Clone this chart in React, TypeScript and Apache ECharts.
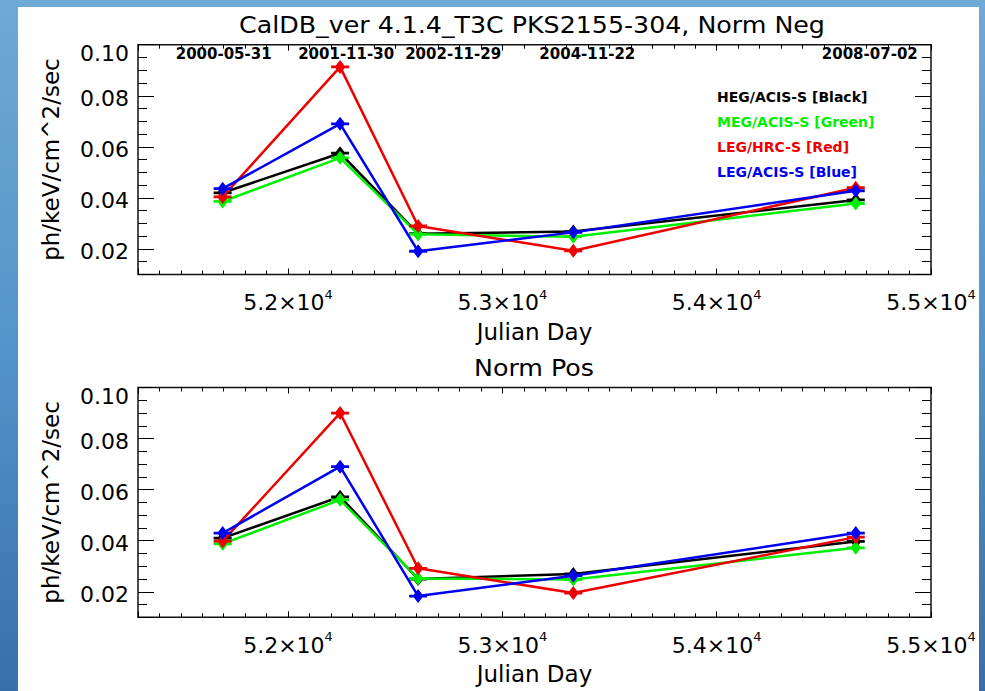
import React, { useEffect, useRef } from 'react';
import * as echarts from 'echarts';

// ---------- data ----------
const seriesNames = ['HEG/ACIS-S [Black]', 'MEG/ACIS-S [Green]', 'LEG/HRC-S [Red]', 'LEG/ACIS-S [Blue]'];
const seriesColors = ['#000000', '#00ee00', '#ee0000', '#0000ee'];
const julianDays = [51695, 52243, 52607, 53331, 54649];
const dateLabels = ['2000-05-31', '2001-11-30', '2002-11-29', '2004-11-22', '2008-07-02'];
const dateLabelShift = [1, 6, 35, 14, 14];

const negBlack = [0.042, 0.0575, 0.026, 0.0268, 0.0392];
const negGreen = [0.0386, 0.0557, 0.0258, 0.0248, 0.0378];
const negRed = [0.0404, 0.0913, 0.029, 0.0193, 0.044];
const negBlue = [0.0436, 0.069, 0.0191, 0.0265, 0.0428];

const posBlack = [0.041, 0.0572, 0.025, 0.027, 0.0397];
const posGreen = [0.0388, 0.056, 0.0252, 0.0248, 0.0372];
const posRed = [0.0398, 0.09, 0.0292, 0.0195, 0.0414];
const posBlue = [0.043, 0.069, 0.0183, 0.0263, 0.043];

const mainTitle = 'CalDB_ver 4.1.4_T3C PKS2155-304, Norm Neg';
const subTitle = 'Norm Pos';
const xName = 'Julian Day';
const yName = 'ph/keV/cm^2/sec';
const xMin = 51300;
const xMax = 55000;
const yMin = 0.01;
const yMax = 0.1;

// ---------- styling ----------
const FONT = 'DejaVu Sans, Liberation Sans, sans-serif';
const MARKER = 'path://M10,0 L16,7 L10,14 L4,7 Z M0,5.6 L20,5.6 L20,8.4 L0,8.4 Z';
const GRID_LEFT = 138;
const GRID_RIGHT = 54;
const GRID_TOPS = [44.7, 387.5];
const GRID_H = 229.8;

function xAxesFor(g: number, showLabels: boolean): any[] {
  const base = {
    type: 'value',
    gridIndex: g,
    min: xMin,
    max: xMax,
    axisLine: { show: false, onZero: false },
    splitLine: { show: false },
  };
  const major = (position: string, labels: boolean) => ({
    ...base,
    position,
    minInterval: 1000,
    maxInterval: 1000,
    axisTick: { inside: true, length: 6, lineStyle: { color: '#000', width: 1 } },
    axisLabel: labels
      ? {
          margin: 13,
          formatter: (v: number) =>
            Math.abs(v % 1000) < 1e-6 ? `{b|${(v / 10000).toFixed(1)}×10}{s|4}` : '',
          rich: {
            b: { fontSize: 22, fontFamily: FONT, color: '#000', lineHeight: 30 },
            s: { fontSize: 13, fontFamily: FONT, color: '#000', lineHeight: 12, verticalAlign: 'top' },
          },
        }
      : { show: false },
    ...(labels
      ? {
          name: xName,
          nameLocation: 'middle',
          nameGap: 46,
          nameTextStyle: { fontSize: 23, fontFamily: FONT, color: '#000', lineHeight: 22 },
        }
      : {}),
  });
  const minor = (position: string) => ({
    ...base,
    position,
    interval: 100,
    axisTick: { inside: true, length: 4, lineStyle: { color: '#000', width: 1 } },
    axisLabel: { show: false },
  });
  return [major('bottom', showLabels), minor('bottom'), major('top', false), minor('top')];
}

function yAxesFor(g: number): any[] {
  const base = {
    type: 'value',
    gridIndex: g,
    min: yMin,
    max: yMax,
    axisLine: { show: false, onZero: false },
    splitLine: { show: false },
  };
  const major = (position: string, labels: boolean) => ({
    ...base,
    position,
    minInterval: 0.02,
    maxInterval: 0.02,
    axisTick: { inside: true, length: 16, lineStyle: { color: '#000', width: 1 } },
    axisLabel: labels
      ? {
          margin: 9,
          formatter: (v: number) => {
            const k = v / 0.02;
            if (Math.abs(k - Math.round(k)) > 1e-6) return '';
            const s = v.toFixed(2);
            return Math.abs(v - yMax) < 1e-9 ? `{t|${s}}` : `{n|${s}}`;
          },
          rich: {
            t: { fontSize: 22, fontFamily: FONT, color: '#000', padding: [18, 0, 0, 0] },
            n: { fontSize: 22, fontFamily: FONT, color: '#000', padding: [5, 0, 0, 0] },
          },
        }
      : { show: false },
    ...(labels
      ? {
          name: yName,
          nameLocation: 'middle',
          nameRotate: 90,
          nameGap: 76,
          nameTextStyle: { fontSize: 23, fontFamily: FONT, color: '#000' },
        }
      : {}),
  });
  const minor = (position: string) => ({
    ...base,
    position,
    interval: 0.005,
    axisTick: { inside: true, length: 9, lineStyle: { color: '#000', width: 1 } },
    axisLabel: { show: false },
  });
  return [major('left', true), minor('left'), major('right', false), minor('right')];
}

function lineSeries(g: number, values: number[][]): any[] {
  return values.map((vals, i) => ({
    type: 'line',
    name: seriesNames[i],
    xAxisIndex: g * 4,
    yAxisIndex: g * 4,
    data: julianDays.map((d, j) => [d, vals[j]]),
    symbol: MARKER,
    symbolSize: [18, 14],
    showAllSymbol: true,
    lineStyle: { color: seriesColors[i], width: 2.5 },
    itemStyle: { color: seriesColors[i] },
    emphasis: { disabled: true },
    z: 3 + i,
  }));
}

export default function App() {
  const ref = useRef<HTMLDivElement>(null);

  useEffect(() => {
    if (!ref.current) return;
    const chart = echarts.init(ref.current, undefined, { renderer: 'svg' });
    const option: any = {
      animation: false,
      backgroundColor: 'transparent',
      textStyle: { fontFamily: FONT },
      grid: GRID_TOPS.map((top) => ({
        left: GRID_LEFT,
        right: GRID_RIGHT,
        top,
        height: GRID_H,
        show: true,
        borderColor: '#111',
        borderWidth: 1.5,
        backgroundColor: 'transparent',
        containLabel: false,
      })),
      xAxis: [...xAxesFor(0, true), ...xAxesFor(1, true)],
      yAxis: [...yAxesFor(0), ...yAxesFor(1)],
      legend: {
        orient: 'vertical',
        left: 707,
        top: 85,
        icon: 'none',
        itemWidth: 0,
        itemHeight: 0,
        itemGap: 11,
        selectedMode: false,
        textStyle: { fontSize: 14, fontWeight: 'bold', fontFamily: FONT, lineHeight: 14 },
        data: seriesNames.map((n, i) => ({ name: n, textStyle: { color: seriesColors[i] } })),
      },
      graphic: [
        {
          type: 'text',
          x: 532,
          y: 25,
          scaleX: 1.1,
          style: {
            text: mainTitle,
            font: `23px ${FONT}`,
            fill: '#000',
            align: 'center',
            verticalAlign: 'middle',
          },
        },
        {
          type: 'text',
          x: 534,
          y: 368,
          scaleX: 1.1,
          style: {
            text: subTitle,
            font: `23px ${FONT}`,
            fill: '#000',
            align: 'center',
            verticalAlign: 'middle',
          },
        },
      ],
      series: [
        ...lineSeries(0, [negBlack, negGreen, negRed, negBlue]),
        ...lineSeries(1, [posBlack, posGreen, posRed, posBlue]),
        {
          type: 'scatter',
          name: 'dates',
          xAxisIndex: 0,
          yAxisIndex: 0,
          symbolSize: 1,
          itemStyle: { color: 'transparent' },
          silent: true,
          clip: false,
          data: julianDays.map((d, j) => ({
            value: [d, yMax],
            label: { offset: [dateLabelShift[j], 9] },
          })),
          label: {
            show: true,
            position: 'inside',
            formatter: (p: any) => dateLabels[p.dataIndex],
            fontSize: 15,
            fontWeight: 'bold',
            fontFamily: FONT,
            color: '#000',
            opacity: 1,
          },
          z: 10,
        },
      ],
    };
    chart.setOption(option);
    return () => chart.dispose();
  }, []);

  return (
    <div
      style={{
        position: 'absolute',
        left: 0,
        top: 0,
        width: 985,
        height: 691,
        background: 'linear-gradient(180deg, #6eaad6 0%, #5594c8 50%, #3670a8 100%)',
      }}
    >
      <div
        style={{ position: 'absolute', left: 18, top: 7, width: 961, height: 684, background: '#ffffff' }}
      />
      <div ref={ref} style={{ position: 'absolute', left: 0, top: 0, width: 985, height: 691 }} />
    </div>
  );
}
